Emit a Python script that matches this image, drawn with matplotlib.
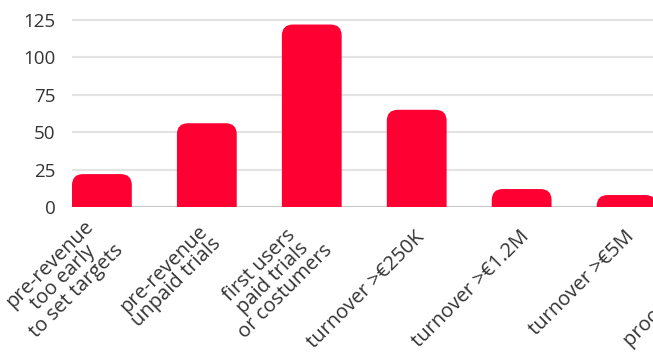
import matplotlib
matplotlib.use("Agg")
import matplotlib.pyplot as plt
from matplotlib.patches import FancyBboxPatch
from matplotlib.transforms import ScaledTranslation

categories = [
    "pre-revenue\ntoo early\nto set targets",
    "pre-revenue\nunpaid trials",
    "first users\npaid trials\nor costumers",
    "turnover >€250K",
    "turnover >€1.2M",
    "turnover >€5M",
    "proof of concept",
]
values = [22, 56, 122, 65, 12, 8]
yticks = [0, 25, 50, 75, 100, 125]

RED = "#FF0033"
TXT = "#333333"
plt.rcParams['font.family'] = ['Open Sans', 'DejaVu Sans']

W, H = 653, 352
fig = plt.figure(figsize=(W / 100, H / 100), dpi=100)
ax_left, ax_bottom = 72, 145
ax_w, ax_h = 712, 207
ax = fig.add_axes([ax_left / W, ax_bottom / H, ax_w / W, ax_h / H])

bw = 0.57
xs = list(range(len(values)))
bars = ax.bar(xs, values, width=bw, color=RED)
ax.set_xlim(-bw / 2, 6.5)
ax.set_ylim(0, 138.4)
ax.set_yticks(yticks)
ax.set_xticks(range(len(categories)))
ax.set_xticklabels(categories, rotation=45, ha='right', va='center',
                   rotation_mode='anchor', multialignment='center',
                   fontsize=14.5, color=TXT, linespacing=0.9)
ax.tick_params(axis='x', length=0, pad=19.5)
ax.tick_params(axis='y', length=0, pad=12, labelsize=13.5, labelcolor=TXT)
shift = ScaledTranslation(5 / 100, 0, fig.dpi_scale_trans)
for lbl in ax.get_xticklabels():
    lbl.set_transform(lbl.get_transform() + shift)
for s in ax.spines.values():
    s.set_visible(False)
ax.grid(axis='y', color='#e3e3e3', linewidth=1.5)
ax.set_axisbelow(True)
ax.axhline(0, color='#c8c8c8', linewidth=1.5, zorder=1)

# rounded tops
px_per_x = ax_w / (6.5 + bw / 2)
px_per_y = ax_h / 138.4
r_px = 11
r_x = r_px / px_per_x
aspect = (r_px / px_per_y) / r_x
for b in bars:
    x0, w, h = b.get_x(), b.get_width(), b.get_height()
    b.set_visible(False)
    ext = r_px / px_per_y
    p = FancyBboxPatch((x0, -ext), w, h + ext,
                       boxstyle=f"round,pad=0,rounding_size={r_x}",
                       mutation_aspect=aspect, facecolor=RED, edgecolor='none',
                       zorder=2, clip_on=True)
    ax.add_patch(p)

fig.savefig("out.png", dpi=100)
